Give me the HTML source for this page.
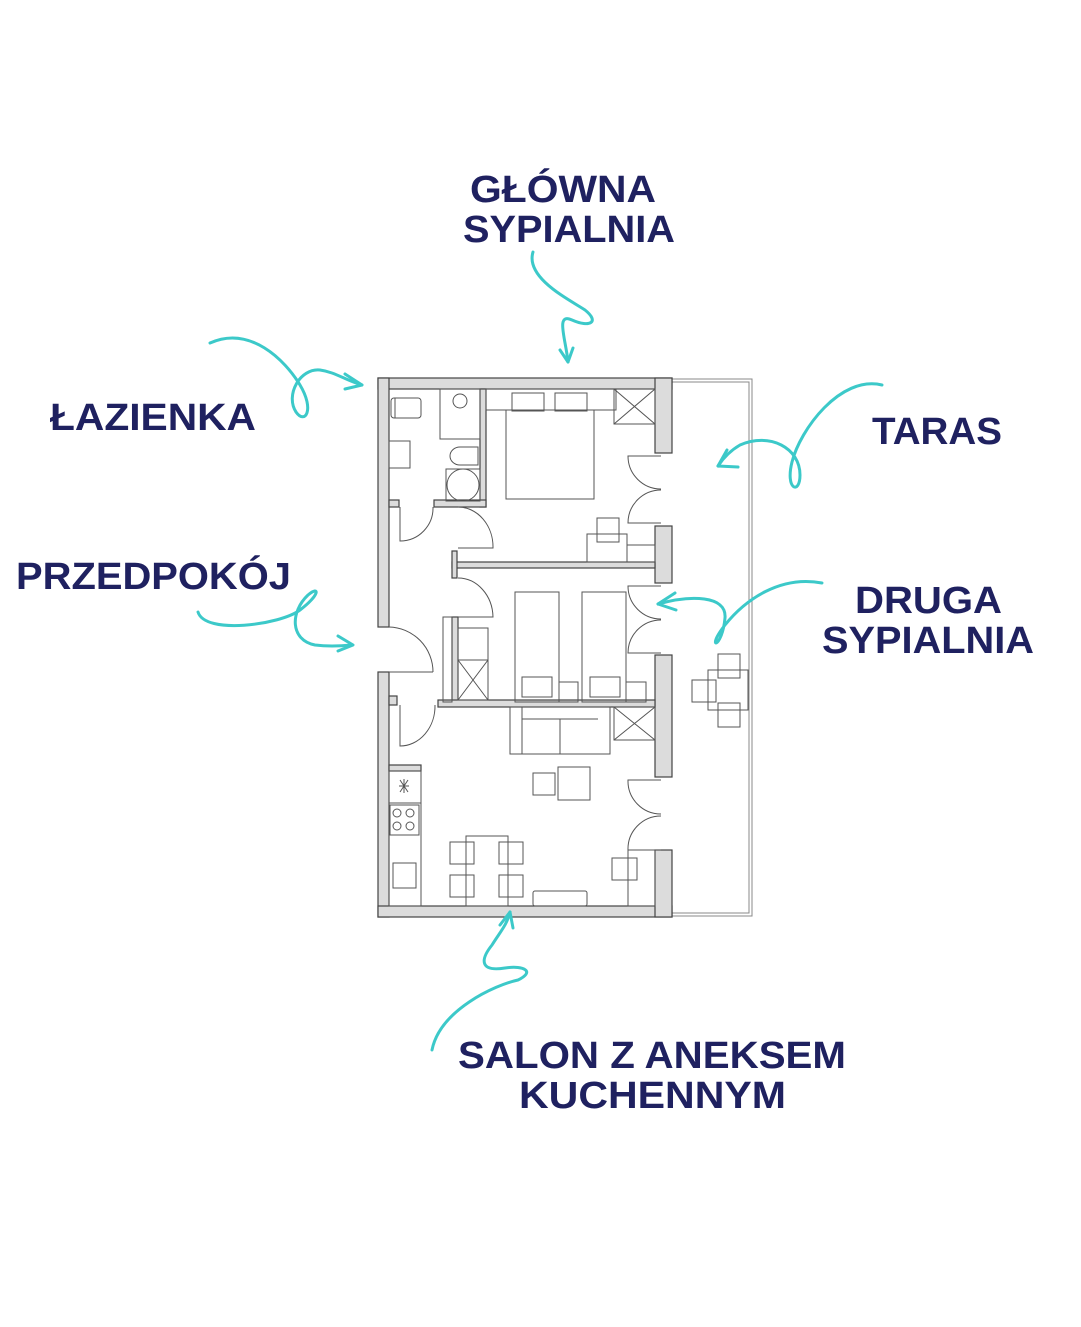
<!DOCTYPE html>
<html><head><meta charset="utf-8"><style>
html,body{margin:0;padding:0;background:#fff}
svg{display:block}
text{font-family:"Liberation Sans",sans-serif;font-weight:bold;fill:#1f2160}
</style></head><body>
<svg width="1081" height="1327" viewBox="0 0 1081 1327" xmlns="http://www.w3.org/2000/svg">
<rect width="1081" height="1327" fill="#fff"/>
<!-- terrace -->
<g fill="none" stroke="#888" stroke-width="1">
<path d="M672,379 H752 V916 H672"/>
<path d="M672,382 H749 V913 H672"/>
</g>
<!-- walls -->
<g fill="#dcdcdc" stroke="#444" stroke-width="1.2">
<rect x="378" y="378" width="294" height="11"/>
<rect x="378" y="378" width="11" height="249"/>
<rect x="378" y="672" width="11" height="245"/>
<rect x="378" y="906" width="294" height="11"/>
<rect x="655" y="378" width="17" height="75"/>
<rect x="655" y="526" width="17" height="57"/>
<rect x="655" y="655" width="17" height="122"/>
<rect x="655" y="850" width="17" height="67"/>
<rect x="480" y="389" width="6" height="118"/>
<rect x="434" y="500" width="52" height="7"/>
<rect x="389" y="500" width="10" height="7"/>
<rect x="452" y="562" width="203" height="6"/>
<rect x="452" y="551" width="5" height="27"/>
<rect x="452" y="617" width="6" height="85"/>
<rect x="438" y="700" width="217" height="7"/>
<rect x="389" y="696" width="8" height="9"/>
<rect x="389" y="765" width="32" height="6"/>
</g>
<!-- furniture -->
<g fill="none" stroke="#555" stroke-width="1">
<!-- bath -->
<rect x="391" y="398" width="30" height="20" rx="3"/><line x1="395" y1="398" x2="395" y2="418"/>
<rect x="440" y="389" width="40" height="50"/><circle cx="460" cy="401" r="7"/>
<rect x="389" y="441" width="21" height="27"/>
<path d="M478,447 H460 a10,9 0 0 0 0,18 H478 Z"/>
<rect x="446" y="469" width="34" height="32"/><circle cx="463" cy="485" r="16"/>
<!-- main bedroom -->
<rect x="486" y="389" width="130" height="21"/>
<rect x="512" y="393" width="32" height="18"/><rect x="555" y="393" width="32" height="18"/>
<rect x="506" y="410" width="88" height="89"/>
<rect x="614" y="389" width="41" height="35"/><path d="M614,389 L655,424 M655,389 L614,424"/>
<rect x="587" y="534" width="40" height="28"/><rect x="597" y="518" width="22" height="24"/>
<rect x="627" y="545" width="28" height="17"/>
<!-- double doors -->
<path d="M661,456 H628 A33,33 0 0 0 661,489"/><path d="M661,523 H628 A33,33 0 0 1 661,490"/>
<path d="M661,586 H628 A33,33 0 0 0 661,619"/><path d="M661,653 H628 A33,33 0 0 1 661,620"/>
<path d="M661,780 H628 A33,33 0 0 0 661,814"/><path d="M661,850 H628 A33,33 0 0 1 661,816"/>
<!-- single doors -->
<path d="M400,507 V541 A33,33 0 0 0 433,507"/>
<path d="M458,507 A35,40 0 0 1 493,548 H458"/>
<path d="M458,578 A35,40 0 0 1 493,617 H458"/>
<path d="M389,627 A45,45 0 0 1 433,672 M389,672 H433"/>
<path d="M400,705 V746 A35,40 0 0 0 435,705"/>
<!-- second bedroom -->
<rect x="515" y="592" width="44" height="110"/><rect x="582" y="592" width="44" height="110"/>
<rect x="522" y="677" width="30" height="20"/><rect x="590" y="677" width="30" height="20"/>
<rect x="559" y="682" width="19" height="20"/><rect x="626" y="682" width="20" height="20"/>
<rect x="458" y="628" width="30" height="72"/>
<rect x="458" y="660" width="30" height="40"/><path d="M458,660 L488,700 M488,660 L458,700"/>
<rect x="443" y="617" width="9" height="85"/>
<!-- living -->
<rect x="510" y="707" width="100" height="47"/><line x1="522" y1="707" x2="522" y2="754"/><line x1="522" y1="719" x2="598" y2="719"/><line x1="560" y1="719" x2="560" y2="754"/>
<rect x="614" y="707" width="41" height="33"/><path d="M614,707 L655,740 M655,707 L614,740"/>
<rect x="533" y="773" width="22" height="22"/><rect x="558" y="767" width="32" height="33"/>
<rect x="389" y="771" width="32" height="135"/>
<line x1="389" y1="803" x2="421" y2="803"/><rect x="390" y="805" width="29" height="30"/>
<circle cx="397" cy="813" r="4"/><circle cx="410" cy="813" r="4"/><circle cx="397" cy="826" r="4"/><circle cx="410" cy="826" r="4"/>
<rect x="393" y="863" width="23" height="25"/>
<path d="M400,780 L408,792 M408,780 L400,792 M399,786 H409 M404,779 V793"/>
<rect x="466" y="836" width="42" height="70"/>
<rect x="450" y="842" width="24" height="22"/><rect x="499" y="842" width="24" height="22"/>
<rect x="450" y="875" width="24" height="22"/><rect x="499" y="875" width="24" height="22"/>
<rect x="533" y="891" width="54" height="15" rx="2"/>
<rect x="612" y="858" width="25" height="22"/><rect x="628" y="850" width="27" height="56"/>
<!-- terrace table -->
<rect x="708" y="670" width="40" height="40"/>
<rect x="718" y="654" width="22" height="24"/><rect x="718" y="703" width="22" height="24"/>
<rect x="692" y="680" width="24" height="22"/>
</g>
<!-- arrows -->
<g fill="none" stroke="#3cc9c9" stroke-width="3" stroke-linecap="round" stroke-linejoin="round">
<path d="M533,252 C525,278 570,300 585,310 C600,322 590,328 572,320 C555,312 566,340 568,362"/>
<path d="M560,350 L568,362 L573,348"/>
<path d="M210,343 C250,325 285,360 300,385 C315,410 305,425 296,412 C285,395 300,368 320,370 C335,372 345,380 362,385"/>
<path d="M345,374 L362,385 L345,389"/>
<path d="M882,385 C840,375 800,430 792,462 C785,490 800,495 800,475 C800,448 770,432 740,445 C728,452 722,460 718,466"/>
<path d="M718,466 L738,467 M718,466 L727,450"/>
<path d="M198,612 C205,635 280,625 300,610 C320,595 320,585 308,595 C290,612 290,640 315,645 C330,647 342,646 352,645"/>
<path d="M338,636 L353,645 L338,651"/>
<path d="M822,583 C780,575 745,600 725,625 C705,650 722,650 725,618 C727,595 690,595 658,604"/>
<path d="M658,604 L675,593 M658,604 L676,610"/>
<path d="M432,1050 C440,1010 495,985 518,980 C535,972 525,965 505,968 C480,972 480,960 492,945 C500,932 507,925 510,912"/>
<path d="M510,912 L500,925 M510,912 L513,928"/>
</g>
<!-- labels -->
<g font-size="38">
<text x="470" y="202" textLength="186" lengthAdjust="spacingAndGlyphs">GŁÓWNA</text>
<text x="463" y="242" textLength="212" lengthAdjust="spacingAndGlyphs">SYPIALNIA</text>
<text x="50" y="430" textLength="206" lengthAdjust="spacingAndGlyphs">ŁAZIENKA</text>
<text x="872" y="444" textLength="130" lengthAdjust="spacingAndGlyphs">TARAS</text>
<text x="16" y="589" textLength="275" lengthAdjust="spacingAndGlyphs">PRZEDPOKÓJ</text>
<text x="855" y="613" textLength="147" lengthAdjust="spacingAndGlyphs">DRUGA</text>
<text x="822" y="653" textLength="212" lengthAdjust="spacingAndGlyphs">SYPIALNIA</text>
<text x="458" y="1068" textLength="388" lengthAdjust="spacingAndGlyphs">SALON Z ANEKSEM</text>
<text x="519" y="1108" textLength="267" lengthAdjust="spacingAndGlyphs">KUCHENNYM</text>
</g>
</svg>
</body></html>
